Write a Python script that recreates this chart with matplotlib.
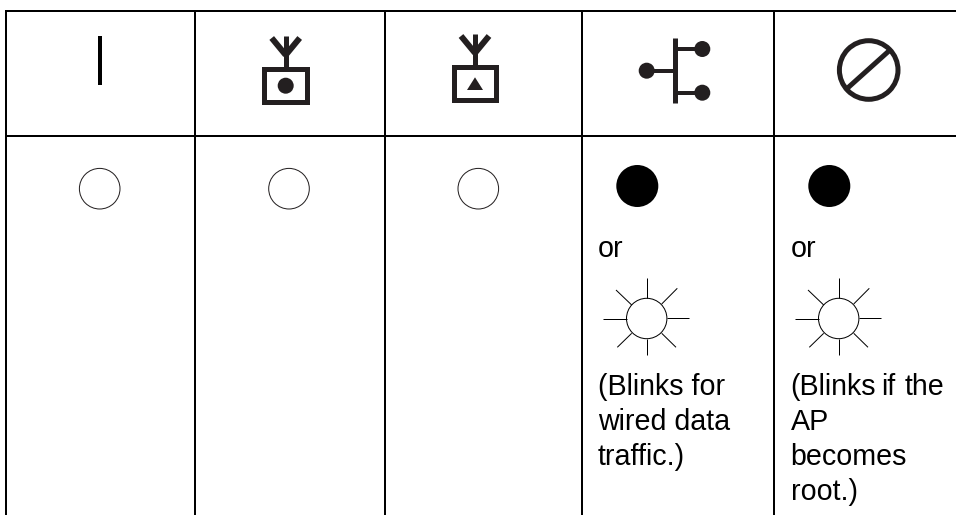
import matplotlib
matplotlib.use("Agg")
import matplotlib.pyplot as plt
from matplotlib.patches import Circle, Rectangle, Polygon

W, H = 956, 515
column_edges = [6, 195.5, 384.7, 582, 773.7]
row_edges = [11, 135.7]
hollow_leds = [(99.7, 188.7), (289, 188.7), (478.3, 188.7)]
solid_leds = [(637.3, 186), (829.3, 186)]
or_labels = [(598, 256.7), (790.7, 256.7)]
sun_offsets = [0, 192]
note_baselines = [395, 430, 465, 500]
# each entry: (x, line index, text)
note_words = [(598, 0, "(Blinks for"), (598, 1, "wired data"), (598, 2, "traffic.)"),
              (790.7, 0, "(Blinks"), (881.5, 0, "if"), (904.5, 0, "the"),
              (790.7, 1, "AP"), (790.7, 2, "becomes"), (790.7, 3, "root.)")]

INK = "#231f20"
px = 72 / 100

fig = plt.figure(figsize=(W / 100, H / 100), dpi=100, facecolor="white")
ax = fig.add_axes([0, 0, 1, 1])
ax.set_xlim(0, W)
ax.set_ylim(H, 0)
ax.axis("off")


def seg(x0, y0, x1, y1, w, color=INK):
    ax.plot([x0, x1], [y0, y1], color=color, lw=w * px, solid_capstyle="butt")


# grid
for y in row_edges:
    seg(column_edges[0] - 1, y, W, y, 2, "black")
for x in column_edges:
    seg(x, row_edges[0] - 1, x, H, 2, "black")

# power icon
seg(99.7, 36, 99.7, 85, 4, "black")


def antenna(cx, top, box_l, box_r, box_t, box_b):
    seg(cx, top, cx, box_t, 5)
    seg(cx, top + 19, cx - 14, top + 2, 6)
    seg(cx, top + 19, cx + 14, top + 2, 6)
    ax.add_patch(Rectangle((box_l + 2.5, box_t + 2.5), box_r - box_l - 5, box_b - box_t - 5,
                           fc="white", ec=INK, lw=5 * px, joinstyle="miter"))


antenna(285.7, 36, 262, 309.5, 66.7, 104.7)
ax.add_patch(Circle((285.7, 85.7), 8, fc=INK, ec="none"))
antenna(475, 34, 451.3, 499, 64.7, 102.3)
ax.add_patch(Polygon([(467, 90), (483, 90), (475, 77.3)], fc=INK, ec="none"))

# ethernet icon
seg(675, 38.3, 675, 103.3, 5)
seg(675, 49, 702, 49, 4)
seg(675, 92.7, 702, 92.7, 4)
seg(647, 70.7, 675, 70.7, 4)
for c in [(702.3, 49), (702.3, 92.7), (646.7, 70.7)]:
    ax.add_patch(Circle(c, 8, fc=INK, ec="none"))

# root icon
ax.add_patch(Circle((868.7, 70), 29.3, fc="none", ec=INK, lw=5 * px))
seg(847.3, 88.3, 890, 50, 5)

# LEDs
for c in hollow_leds:
    ax.add_patch(Circle(c, 20.3, fc="white", ec=INK, lw=1 * px))
for c in solid_leds:
    ax.add_patch(Circle(c, 21, fc="black", ec="none"))

# blinking suns
for dx in sun_offsets:
    ax.add_patch(Circle((646.7 + dx, 318.5), 20.2, fc="white", ec="black", lw=1 * px))
    for r in [(603.3, 318.7, 626.7, 318.7), (667, 318, 689, 318),
              (646.7, 278.3, 646.7, 298.3), (646.7, 339, 646.7, 355),
              (616, 290, 631.7, 305), (677.3, 288.3, 661.7, 304),
              (617.3, 347.3, 631.7, 333.3), (676, 347.3, 661.7, 333.3)]:
        seg(r[0] + dx, r[1], r[2] + dx, r[3], 1, "black")

# text
fs = 28.6 * px
for x, y in or_labels:
    ax.text(x, y, "or", fontsize=fs, family="Liberation Sans", va="baseline", ha="left", color="black")
for x, i, word in note_words:
    ax.text(x, note_baselines[i], word, fontsize=fs, family="Liberation Sans",
            va="baseline", ha="left", color="black")

fig.savefig("out.png", dpi=100, facecolor="white")
